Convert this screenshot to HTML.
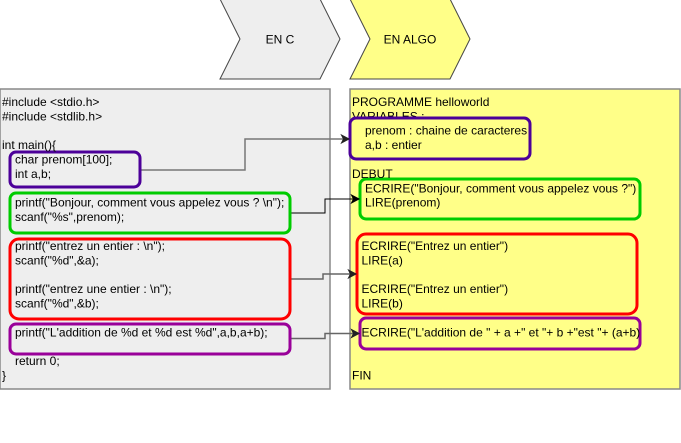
<!DOCTYPE html>
<html>
<head>
<meta charset="utf-8">
<style>
  html, body { margin:0; padding:0; background:#ffffff; }
  svg { display:block; }
  text { font-family: "Liberation Sans", Arial, sans-serif; font-size:12px; fill:#000; }
</style>
</head>
<body>
<svg width="681" height="443" viewBox="0 0 681 443" xmlns="http://www.w3.org/2000/svg">
  <!-- chevrons -->
  <polygon points="220,-1 320,-1 340,39 320,79 220,79 240,39" fill="#eeeeee" stroke="#444" stroke-width="1"/>
  <text x="280" y="43.3" text-anchor="middle">EN C</text>
  <polygon points="350,-1 450,-1 470,39 450,79 350,79 370,39" fill="#ffff88" stroke="#444" stroke-width="1"/>
  <text x="410" y="43.3" text-anchor="middle">EN ALGO</text>

  <!-- containers -->
  <rect x="0" y="89" width="330" height="300" fill="#eeeeee" stroke="#888" stroke-width="1.5"/>
  <rect x="350" y="89" width="330" height="300" fill="#ffff88" stroke="#888" stroke-width="1.5"/>

  <!-- right text under purple box -->
  <text x="352" y="105.9">PROGRAMME helloworld</text>
  <text x="352" y="120.3">VARIABLES :</text>

  <!-- left boxes -->
  <rect x="10" y="152" width="130" height="35" rx="6" ry="6" fill="#eeeeee" stroke="#4c0099" stroke-width="3"/>
  <rect x="10" y="193" width="280" height="40" rx="6" ry="6" fill="#eeeeee" stroke="#00cc00" stroke-width="3"/>
  <rect x="10" y="239" width="280" height="80" rx="9" ry="9" fill="#eeeeee" stroke="#ff0000" stroke-width="3"/>
  <rect x="10" y="324" width="280" height="30" rx="6" ry="6" fill="#eeeeee" stroke="#990099" stroke-width="3"/>

  <!-- right boxes -->
  <rect x="350" y="118" width="180" height="41" rx="6" ry="6" fill="#ffff88" stroke="#4c0099" stroke-width="3"/>
  <rect x="360" y="179" width="280" height="40" rx="6" ry="6" fill="#ffff88" stroke="#00cc00" stroke-width="3"/>
  <rect x="357" y="234" width="280" height="80" rx="9" ry="9" fill="#ffff88" stroke="#ff0000" stroke-width="3"/>
  <rect x="360" y="318" width="280" height="31" rx="6" ry="6" fill="#ffff88" stroke="#990099" stroke-width="3"/>

  <!-- left text -->
  <text x="2" y="105.9">#include &lt;stdio.h&gt;</text>
  <text x="2" y="120.3">#include &lt;stdlib.h&gt;</text>
  <text x="2" y="149.1">int main(){</text>
  <text x="15" y="163.5">char prenom[100];</text>
  <text x="15" y="177.9">int a,b;</text>
  <text x="15" y="206.7">printf("Bonjour, comment vous appelez vous ? \n");</text>
  <text x="15" y="221.1">scanf("%s",prenom);</text>
  <text x="15" y="249.9">printf("entrez un entier : \n");</text>
  <text x="15" y="264.3">scanf("%d",&amp;a);</text>
  <text x="15" y="293.1">printf("entrez une entier : \n");</text>
  <text x="15" y="307.5">scanf("%d",&amp;b);</text>
  <text x="15" y="336.3">printf("L'addition de %d et %d est %d",a,b,a+b);</text>
  <text x="15" y="365.1">return 0;</text>
  <text x="2" y="379.5">}</text>

  <!-- right text -->
  <text x="365" y="134.7">prenom : chaine de caracteres</text>
  <text x="365" y="149.1">a,b : entier</text>
  <text x="352" y="177.9">DEBUT</text>
  <text x="365" y="192.3">ECRIRE("Bonjour, comment vous appelez vous ?")</text>
  <text x="365" y="206.7">LIRE(prenom)</text>
  <text x="361.5" y="249.9">ECRIRE("Entrez un entier")</text>
  <text x="361.5" y="264.3">LIRE(a)</text>
  <text x="361.5" y="293.1">ECRIRE("Entrez un entier")</text>
  <text x="361.5" y="307.5">LIRE(b)</text>
  <text x="361.5" y="336.3">ECRIRE("L'addition de " + a +" et "+ b +"est "+ (a+b)</text>
  <text x="352" y="379.5">FIN</text>

  <!-- connectors -->
  <polyline points="141.5,170 245,170 245,139 344,139" fill="none" stroke="#777" stroke-width="1.5"/>
  <path d="M349,139 L341.5,135 L343.5,139 L341.5,143 Z" fill="#222" stroke="#222" stroke-width="1"/>

  <polyline points="291.5,213 325,213 325,199 354,199" fill="none" stroke="#000" stroke-width="1"/>
  <path d="M359,199 L351.5,195 L353.5,199 L351.5,203 Z" fill="#000" stroke="#000" stroke-width="1"/>

  <polyline points="291.5,279 323,279 323,274 351,274" fill="none" stroke="#666" stroke-width="1.5"/>
  <path d="M356,274 L348.5,270 L350.5,274 L348.5,278 Z" fill="#222" stroke="#222" stroke-width="1"/>

  <polyline points="291.5,338.5 325,338.5 325,333.5 354,333.5" fill="none" stroke="#666" stroke-width="1.5"/>
  <path d="M359,333.5 L351.5,329.5 L353.5,333.5 L351.5,337.5 Z" fill="#222" stroke="#222" stroke-width="1"/>
</svg>
</body>
</html>
